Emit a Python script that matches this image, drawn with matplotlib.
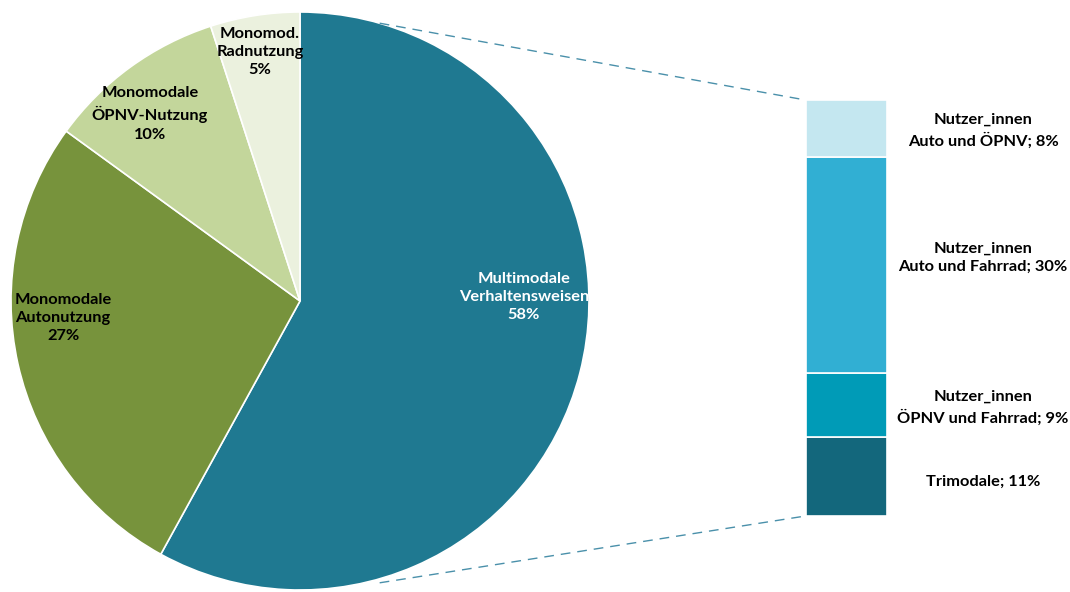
import numpy as np
import matplotlib.pyplot as plt

# main split of the pie (clockwise from 12 o'clock)
pie_labels = ["Multimodale\nVerhaltensweisen\n58%",
              "Monomodale\nAutonutzung\n27%",
              "Monomodale\nÖPNV-Nutzung\n10%",
              "Monomod.\nRadnutzung\n5%"]
pie_values = [58, 27, 10, 5]
pie_colors = ["#1F7991", "#77933C", "#C3D69B", "#EBF1DE"]

# breakdown of the multimodal share, top to bottom
bar_labels = ["Nutzer_innen\nAuto und ÖPNV; 8%",
              "Nutzer_innen\nAuto und Fahrrad; 30%",
              "Nutzer_innen\nÖPNV und Fahrrad; 9%",
              "Trimodale; 11%"]
bar_values = [8, 30, 9, 11]
bar_colors = ["#C4E7F0", "#31AFD3", "#009BB7", "#13677C"]

W, H = 1070, 592
fig = plt.figure(figsize=(W / 100, H / 100), dpi=100)
ax = fig.add_axes([0, 0, 1, 1])

cx, cy, r = 300, 291, 289
wedges, _ = ax.pie(pie_values, colors=pie_colors, startangle=90, counterclock=False,
                   center=(cx, cy), radius=r, frame=True,
                   wedgeprops=dict(edgecolor="white", linewidth=1.2))
ax.set_xlim(0, W)
ax.set_ylim(0, H)
ax.set_aspect("equal")
ax.axis("off")

font = dict(family="Lato", fontweight="bold", fontsize=11.8, ha="center", va="center",
            linespacing=1.4)
pie_text_pos = [(524, 295), (63, 274), (150, 478), (260, 540)]
for lab, (tx, ty), col in zip(pie_labels, pie_text_pos, ["white", "black", "black", "black"]):
    ax.text(tx, ty, lab, color=col, **font)

# stacked bar, drawn from the bottom segment upwards
bx, bw = 846, 81
unit = 416 / sum(bar_values)
bottom = 76
for val, col in zip(bar_values[::-1], bar_colors[::-1]):
    ax.bar(bx, val * unit, width=bw, bottom=bottom, color=col, edgecolor="white", linewidth=1.2)
    bottom += val * unit
bar_top = bottom

bar_text_y = [110, 184, 334, 461]
for lab, ty in zip(bar_labels[::-1], bar_text_y):
    ax.text(983, ty, lab, color="black", **font)

# connector lines from the pie to the bar
ang = np.deg2rad(74)
line_kw = dict(color="#4A90AA", linewidth=1.0, linestyle=(0, (7, 5)))
ax.plot([cx + r * np.cos(ang), bx - bw / 2], [cy + r * np.sin(ang), bar_top], **line_kw)
ax.plot([cx + r * np.cos(ang), bx - bw / 2], [cy - r * np.sin(ang) - 4, 76], **line_kw)

fig.savefig("out.png", dpi=100)
